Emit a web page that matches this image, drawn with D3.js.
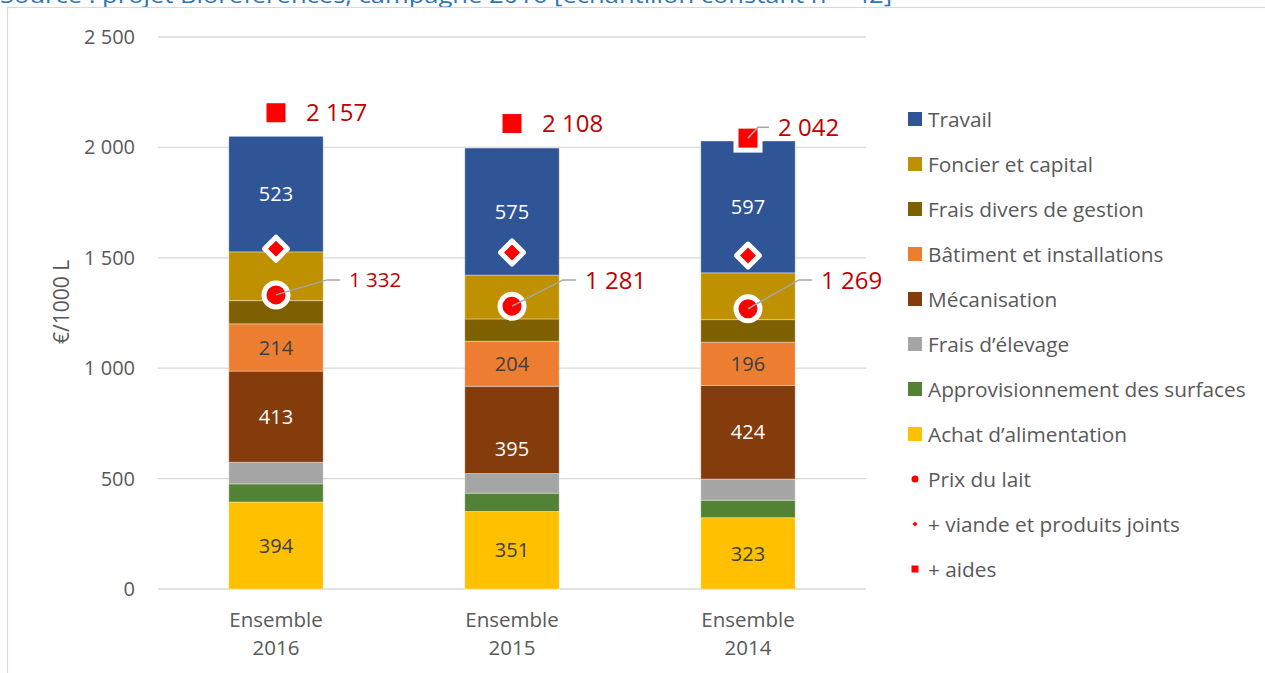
<!DOCTYPE html>
<html>
<head>
<meta charset="utf-8">
<script src="https://cdn.jsdelivr.net/npm/d3@7"></script>
<style>
  body { margin: 0; background: #fff; }
  svg { display: block; font-family: "Open Sans", "Noto Sans", sans-serif; }
</style>
</head>
<body>
<div id="wrapper"></div>
<script>
// categories (x axis), two lines each
const years = ["2016", "2015", "2014"];
const groupLabel = "Ensemble";

// stacked cost items, bottom to top (€/1000 L)
const achat = [394, 351, 323];
const appro = [82, 83, 79];
const elevage = [98, 89, 96];
const meca = [413, 395, 424];
const batiment = [214, 204, 196];
const fraisDivers = [105, 101, 102];
const foncier = [221, 199, 212];
const travail = [523, 575, 597];

// price markers
const prixLait = [1332, 1281, 1269];
const viande = [1541, 1524, 1510];
const aides = [2157, 2108, 2042];

const yTicks = [0, 500, 1000, 1500, 2000, 2500];

const series = [
  { name: "Achat d’alimentation", values: achat, color: "#FFC000", label: true, text: "#404040" },
  { name: "Approvisionnement des surfaces", values: appro, color: "#548235", label: false },
  { name: "Frais d’élevage", values: elevage, color: "#A5A5A5", label: false },
  { name: "Mécanisation", values: meca, color: "#843C0C", label: true, text: "#fff" },
  { name: "Bâtiment et installations", values: batiment, color: "#ED7D31", label: true, text: "#404040" },
  { name: "Frais divers de gestion", values: fraisDivers, color: "#7F6000", label: false },
  { name: "Foncier et capital", values: foncier, color: "#BF9000", label: false },
  { name: "Travail", values: travail, color: "#2F5597", label: true, text: "#fff" },
];

const width = 1265, height = 673;
const dims = { left: 158, right: 866, top: 37, bottom: 589 };

const svg = d3.select("#wrapper").append("svg")
  .attr("width", width)
  .attr("height", height);

// source line at the very top (cut by the page edge, as in the original)
svg.append("text")
  .attr("x", 0)
  .attr("y", 3)
  .attr("fill", "#2E75B6")
  .attr("font-size", 22)
  .attr("textLength", 892)
  .attr("lengthAdjust", "spacingAndGlyphs")
  .text("Source : projet Bioréférences, campagne 2016 [échantillon constant n = 42]");

// chart frame
svg.append("rect")
  .attr("x", 7.5).attr("y", 7.5)
  .attr("width", 1300).attr("height", 700)
  .attr("fill", "none")
  .attr("stroke", "#D9D9D9")
  .attr("stroke-width", 1.2);

const x = d3.scaleBand()
  .domain(years)
  .range([dims.left, dims.right])
  .paddingInner(0.6)
  .paddingOuter(0.3);

const y = d3.scaleLinear()
  .domain([0, 2500])
  .range([dims.bottom, dims.top]);

const fmt = v => d3.format(",")(v).replace(/,/g, " ");

// grid
svg.append("g").selectAll("line")
  .data(yTicks)
  .join("line")
  .attr("x1", dims.left).attr("x2", dims.right)
  .attr("y1", d => y(d)).attr("y2", d => y(d))
  .attr("stroke", "#D9D9D9")
  .attr("stroke-width", 1.3);

// y axis labels
svg.append("g").selectAll("text")
  .data(yTicks)
  .join("text")
  .attr("x", 135)
  .attr("y", d => y(d))
  .attr("dy", "0.35em")
  .attr("text-anchor", "end")
  .attr("fill", "#595959")
  .attr("font-size", 20)
  .text(fmt);

svg.append("text")
  .attr("transform", `translate(62, ${y(1300)}) rotate(-90)`)
  .attr("text-anchor", "middle")
  .attr("dy", "0.35em")
  .attr("fill", "#595959")
  .attr("font-size", 21)
  .text("€/1000 L");

// x axis labels
const xl = svg.append("g").selectAll("text")
  .data(years)
  .join("text")
  .attr("x", d => x(d) + x.bandwidth() / 2)
  .attr("y", 627)
  .attr("text-anchor", "middle")
  .attr("fill", "#595959")
  .attr("font-size", 20.5);
xl.append("tspan").attr("x", d => x(d) + x.bandwidth() / 2).text(groupLabel);
xl.append("tspan").attr("x", d => x(d) + x.bandwidth() / 2).attr("dy", 28).text(d => d);

// stacks
const table = years.map((yr, i) => {
  const row = { year: yr };
  series.forEach(s => { row[s.name] = s.values[i]; });
  return row;
});
const stack = d3.stack().keys(series.map(s => s.name))(table);

const bars = svg.append("g");
stack.forEach((layer, li) => {
  const s = series[li];
  bars.append("g").selectAll("rect")
    .data(layer)
    .join("rect")
    .attr("x", d => x(d.data.year))
    .attr("width", x.bandwidth())
    .attr("y", d => y(d[1]))
    .attr("height", d => y(d[0]) - y(d[1]))
    .attr("fill", s.color)
    .attr("stroke", "#fff")
    .attr("stroke-opacity", 0.35)
    .attr("stroke-width", 1);
});

// value labels inside bars
stack.forEach((layer, li) => {
  const s = series[li];
  if (!s.label) return;
  bars.append("g").selectAll("text")
    .data(layer)
    .join("text")
    .attr("x", d => x(d.data.year) + x.bandwidth() / 2)
    .attr("y", d => {
      let mid = (y(d[0]) + y(d[1])) / 2;
      // Excel label for 2015 Mécanisation was dragged down a bit
      if (s.name === "Mécanisation" && d.data.year === "2015") mid += 19;
      return mid;
    })
    .attr("dy", "0.36em")
    .attr("text-anchor", "middle")
    .attr("fill", s.text)
    .attr("font-size", 20)
    .text(d => d.data[s.name]);
});

const cx = d => x(d) + x.bandwidth() / 2;
const red = "#FF0000", labelRed = "#C00000", leader = "#A6A6A6";

// + aides : squares
const aidesG = svg.append("g");
years.forEach((yr, i) => {
  const px = cx(yr), py = y(aides[i]);
  const total = d3.sum(series, s => s.values[i]);
  aidesG.append("rect")
    .attr("x", px - 12).attr("y", py - 12)
    .attr("width", 24).attr("height", 24)
    .attr("fill", red)
    .attr("stroke", "#fff")
    .attr("stroke-width", 5);
  let ly = py;
  if (aides[i] - total < 40) {
    // marker sits on the bar top: lift the label with a leader line
    ly = py - 11;
    aidesG.append("polyline")
      .attr("points", [[px, py], [px + 10, ly], [px + 21, ly]].join(" "))
      .attr("fill", "none")
      .attr("stroke", leader)
      .attr("stroke-width", 1.5);
  }
  aidesG.append("text")
    .attr("x", px + 30)
    .attr("y", ly)
    .attr("dy", "0.36em")
    .attr("fill", labelRed)
    .attr("font-size", 24)
    .text(fmt(aides[i]));
});

// + viande : diamonds
svg.append("g").selectAll("path")
  .data(years)
  .join("path")
  .attr("d", (d, i) => {
    const px = cx(d), py = y(viande[i]), r = 11.5;
    return `M${px},${py - r}L${px + r},${py}L${px},${py + r}L${px - r},${py}Z`;
  })
  .attr("fill", red)
  .attr("stroke", "#fff")
  .attr("stroke-width", 5)
  .attr("stroke-linejoin", "round");

// Prix du lait : circles with leader labels
const laitG = svg.append("g");
const laitLabelY = y(1400);
years.forEach((yr, i) => {
  const px = cx(yr), py = y(prixLait[i]);
  const tx = px + 73;
  laitG.append("circle")
    .attr("cx", px).attr("cy", py)
    .attr("r", 12)
    .attr("fill", red)
    .attr("stroke", "#fff")
    .attr("stroke-width", 5);
  laitG.append("polyline")
    .attr("points", [[px, py], [tx - 22, laitLabelY], [tx - 9, laitLabelY]].join(" "))
    .attr("fill", "none")
    .attr("stroke", leader)
    .attr("stroke-width", 1.5);
  laitG.append("text")
    .attr("x", tx)
    .attr("y", laitLabelY)
    .attr("dy", "0.36em")
    .attr("fill", labelRed)
    .attr("font-size", i === 0 ? 20.5 : 24)
    .text(fmt(prixLait[i]));
});

// legend
const legendItems = series.slice().reverse().map(s => ({ name: s.name, type: "rect", color: s.color }))
  .concat([
    { name: "Prix du lait", type: "circle" },
    { name: "+ viande et produits joints", type: "diamond" },
    { name: "+ aides", type: "square" },
  ]);

const legend = svg.append("g").attr("transform", "translate(908, 119)");
const li = legend.selectAll("g")
  .data(legendItems)
  .join("g")
  .attr("transform", (d, i) => `translate(0, ${i * 45})`);

li.each(function(d) {
  const g = d3.select(this);
  if (d.type === "rect") {
    g.append("rect").attr("x", 0).attr("y", -7).attr("width", 14).attr("height", 14).attr("fill", d.color);
  } else if (d.type === "circle") {
    g.append("circle").attr("cx", 7).attr("cy", 0).attr("r", 3.5).attr("fill", red);
  } else if (d.type === "diamond") {
    g.append("path").attr("d", "M7,-2.5L9.5,0L7,2.5L4.5,0Z").attr("fill", red);
  } else {
    g.append("rect").attr("x", 3.5).attr("y", -3.5).attr("width", 7).attr("height", 7).attr("fill", red);
  }
});

li.append("text")
  .attr("x", 20)
  .attr("dy", "0.36em")
  .attr("fill", "#595959")
  .attr("font-size", 20.8)
  .text(d => d.name);
</script>
</body>
</html>
